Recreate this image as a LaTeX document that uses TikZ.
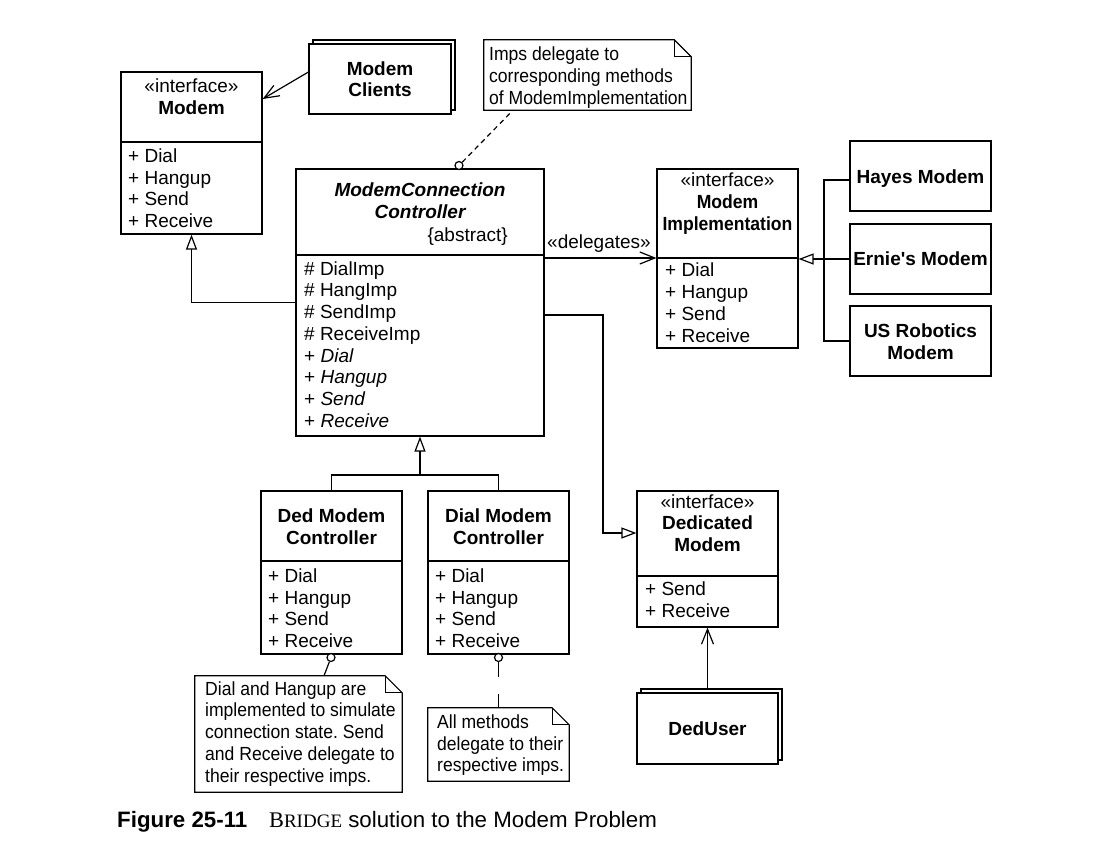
\documentclass[tikz,border=0pt]{standalone}
\usepackage{fontspec}
\setmainfont{Liberation Sans}[Ligatures=TeXOff]
\newfontfamily\timesfont{Liberation Serif}
\usetikzlibrary{arrows.meta}

\newcommand{\umlfont}{\fontsize{19}{22}\selectfont}
\newcommand{\capfont}{\fontsize{22.3}{26}\selectfont}
\frenchspacing

\tikzset{
  box/.style={draw, line width=1.2pt, inner sep=0pt, fill=white},
  lbl/.style={anchor=base, inner sep=0pt},
  op/.style={anchor=base west, inner sep=0pt},
  narrow/.style={xscale=0.925, transform shape},
  noteline/.style={anchor=base west, inner sep=0pt, narrow},
  wire/.style={line width=1.2pt},
  divider/.style={line width=1.6pt},
  dep/.style={line width=1.2pt, -{Straight Barb[length=15pt,width=12pt]}},
  gen/.style={line width=1.2pt, -{Triangle[open,length=15pt,width=11pt]}},
  ball/.style={draw, circle, line width=1.2pt, inner sep=0pt, minimum size=8pt, fill=white},
  noteface/.style={inner sep=0pt},
}

\begin{document}
\begin{tikzpicture}[x=1pt,y=-1pt,font=\umlfont]
\path[use as bounding box, fill=white] (0,0) rectangle (1104,855);

% Modem interface
\node[box, minimum width=141pt, minimum height=162pt] (modem) at (191.5,153) {};
\draw[divider] (modem.west |- 0,142) -- (modem.east |- 0,142);
\node[lbl] (modem-st) at (191.5,92.7) {«interface»};
\node[lbl] (modem-nm) at (191.5,114) {\bfseries Modem};
\foreach \op [count=\i] in {Dial,Hangup,Send,Receive}
  \node[op] (modem-op\i) at (128,{162.3+21.8*(\i-1)}) {+ \op};

% Modem Clients (multi object)
\node[box, minimum width=142pt, minimum height=70pt] (clients-bk) at (384,75) {};
\node[box, minimum width=142pt, minimum height=70pt] (clients) at (380,79) {};
\node[lbl] (clients-l1) at (380,75) {\bfseries Modem};
\node[lbl] (clients-l2) at (380,96.7) {\bfseries Clients};
\draw[dep] (clients.west |- 0,72) -- (modem.east |- 0,99);

% ModemConnectionController
\node[box, minimum width=248pt, minimum height=267pt] (mcc) at (420,302.5) {};
\draw[divider] (mcc.west |- 0,255) -- (mcc.east |- 0,255);
\node[lbl] (mcc-l1) at (420,196) {\bfseries\itshape ModemConnection};
\node[lbl] (mcc-l2) at (420,218.3) {\bfseries\itshape Controller};
\node[anchor=base east, inner sep=0pt] (mcc-abs) at (508,241) {\{abstract\}};
\foreach \op [count=\i] in {\# DialImp,\# HangImp,\# SendImp,\# ReceiveImp,
    + \textit{Dial},+ \textit{Hangup},+ \textit{Send},+ \textit{Receive}}
  \node[op] (mcc-op\i) at (304,{275+21.75*(\i-1)}) {\op};
\draw[gen] (mcc.west) -| (modem.south);

% note on the imps
\node[noteface, minimum width=207pt, minimum height=70pt] (note-imp) at (587.5,75) {};
\draw[wire, fill=white] (note-imp.north west) -- ([xshift=-17pt]note-imp.north east)
  -- ([yshift=-17pt]note-imp.north east) -- (note-imp.south east)
  -- (note-imp.south west) -- cycle;
\draw[wire] ([xshift=-17pt]note-imp.north east) |- ([yshift=-17pt]note-imp.north east);
\node[noteline] (note-imp-l1) at (489,60.7) {Imps delegate to};
\node[noteline] (note-imp-l2) at (489,82.5) {corresponding methods};
\node[noteline] (note-imp-l3) at (489,104) {of ModemImplementation};
\node[ball] (mcc-ball) at (459,165.5) {};
\draw[wire, dash pattern=on 5pt off 4pt] (mcc-ball) -- (note-imp.south -| 513,0);

% ModemImplementation
\node[box, minimum width=141pt, minimum height=179pt] (mi) at (727.5,258.5) {};
\draw[divider] (mi.west |- 0,258) -- (mi.east |- 0,258);
\node[lbl] (mi-st) at (727.5,186.7) {«interface»};
\node[lbl, narrow] (mi-l1) at (727.5,208.3) {\bfseries Modem};
\node[lbl, narrow] (mi-l2) at (727.5,230) {\bfseries Implementation};
\foreach \op [count=\i] in {Dial,Hangup,Send,Receive}
  \node[op] (mi-op\i) at (665,{276.7+21.9*(\i-1)}) {+ \op};
\draw[dep] (mcc.east |- 0,258) -- (mi.west |- 0,258);
\node[lbl] (deleg) at (599,248.3) {«delegates»};

% implementations
\node[box, minimum width=141pt, minimum height=70pt] (hayes) at (920.5,176) {};
\node[lbl] (hayes-l) at (920.5,183.3) {\bfseries Hayes Modem};
\node[box, minimum width=141pt, minimum height=70pt] (ernie) at (920.5,259) {};
\node[lbl] (ernie-l) at (920.5,265.7) {\bfseries Ernie's Modem};
\node[box, minimum width=141pt, minimum height=70pt] (usr) at (920.5,341) {};
\node[lbl] (usr-l1) at (920.5,337.3) {\bfseries US Robotics};
\node[lbl] (usr-l2) at (920.5,359) {\bfseries Modem};
\coordinate (impl-j) at (824,259);
\draw[gen] (ernie.west) -- (mi.east |- ernie.west);
\draw[wire] (hayes.west |- 0,180) -| (impl-j);
\draw[wire] (usr.west) -| (impl-j);

% Ded / Dial Modem Controller
\node[box, minimum width=141pt, minimum height=163pt] (ded) at (331.5,572.5) {};
\draw[divider] (ded.west |- 0,561) -- (ded.east |- 0,561);
\node[lbl] (ded-l1) at (331.5,522) {\bfseries Ded Modem};
\node[lbl] (ded-l2) at (331.5,544) {\bfseries Controller};
\foreach \op [count=\i] in {Dial,Hangup,Send,Receive}
  \node[op] (ded-op\i) at (268,{582.3+21.8*(\i-1)}) {+ \op};

\node[box, minimum width=141pt, minimum height=163pt] (dial) at (498.5,572.5) {};
\draw[divider] (dial.west |- 0,561) -- (dial.east |- 0,561);
\node[lbl] (dial-l1) at (498.5,522) {\bfseries Dial Modem};
\node[lbl] (dial-l2) at (498.5,544) {\bfseries Controller};
\foreach \op [count=\i] in {Dial,Hangup,Send,Receive}
  \node[op] (dial-op\i) at (435,{582.3+21.8*(\i-1)}) {+ \op};

\coordinate (gen-j) at (420,475);
\draw[gen] (gen-j) -- (mcc.south);
\draw[wire] (ded.north) |- (gen-j) -| (dial.north);

% notes under the controllers
\node[noteface, minimum width=207pt, minimum height=116pt] (note-ded) at (298.5,734) {};
\draw[wire, fill=white] (note-ded.north west) -- ([xshift=-17pt]note-ded.north east)
  -- ([yshift=-17pt]note-ded.north east) -- (note-ded.south east)
  -- (note-ded.south west) -- cycle;
\draw[wire] ([xshift=-17pt]note-ded.north east) |- ([yshift=-17pt]note-ded.north east);
\foreach \ln [count=\i] in {Dial and Hangup are,implemented to simulate,
    connection state. Send,and Receive delegate to,their respective imps.}
  \node[noteline] (note-ded-l\i) at (205,{695+21.9*(\i-1)}) {\ln};
\node[ball] (ded-ball) at (331,657.5) {};
\draw[wire] (ded-ball) -- (note-ded.north -| 324,0);

\node[noteface, minimum width=141pt, minimum height=73pt] (note-dial) at (498.5,744.5) {};
\draw[wire, fill=white] (note-dial.north west) -- ([xshift=-17pt]note-dial.north east)
  -- ([yshift=-17pt]note-dial.north east) -- (note-dial.south east)
  -- (note-dial.south west) -- cycle;
\draw[wire] ([xshift=-17pt]note-dial.north east) |- ([yshift=-17pt]note-dial.north east);
\node[noteline] (note-dial-l1) at (437,728.3) {All methods};
\node[noteline] (note-dial-l2) at (437,750) {delegate to their};
\node[noteline] (note-dial-l3) at (437,771.7) {respective imps.};
\node[ball] (dial-ball) at (498.5,657.5) {};
\draw[wire, dash pattern=on 15pt off 17pt] (dial-ball) -- (note-dial.north);

% Dedicated Modem and its user
\node[box, minimum width=141pt, minimum height=136pt] (dedm) at (707.5,559) {};
\draw[divider] (dedm.west |- 0,576) -- (dedm.east |- 0,576);
\node[lbl] (dedm-st) at (707.5,508.3) {«interface»};
\node[lbl] (dedm-l1) at (707.5,529.3) {\bfseries Dedicated};
\node[lbl] (dedm-l2) at (707.5,551) {\bfseries Modem};
\node[op] (dedm-op1) at (645,595) {+ Send};
\node[op] (dedm-op2) at (645,617) {+ Receive};
\draw[gen] (mcc.east |- 0,315) -| (603,533) -- (dedm.west |- 0,533);

\node[box, minimum width=141pt, minimum height=71pt] (deduser-bk) at (711.5,724.5) {};
\node[box, minimum width=141pt, minimum height=71pt] (deduser) at (707.5,728.5) {};
\node[lbl] (deduser-l) at (707.5,735) {\bfseries DedUser};
\draw[dep] (deduser.north |- deduser-bk.north) -- (dedm.south);

% caption
\node[anchor=base west, inner sep=0pt, font=\capfont\bfseries] (cap-num) at (117,827) {Figure 25-11};
\node[anchor=base west, inner sep=0pt, font=\capfont] (cap-txt) at (269,827)
  {{\timesfont B\fontsize{19}{22}\selectfont RIDGE} solution to the Modem Problem};
\end{tikzpicture}
\end{document}
